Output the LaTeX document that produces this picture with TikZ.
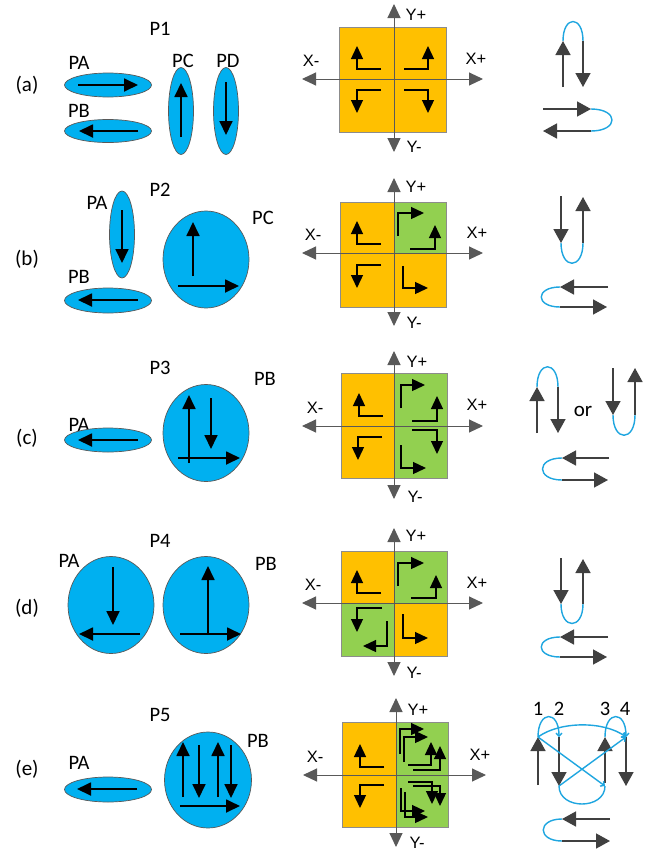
\documentclass[tikz,border=0pt]{standalone}
\usepackage{fontspec}
\setmainfont{Carlito}
\newfontfamily\axfont{Liberation Sans}
\usetikzlibrary{arrows.meta,shapes.geometric}
\definecolor{blobc}{HTML}{00B0F0}
\definecolor{orq}{HTML}{FFC000}
\definecolor{grq}{HTML}{92D050}
\definecolor{axc}{HTML}{595959}
\definecolor{rac}{HTML}{404040}
\definecolor{loopc}{HTML}{1FA6E0}
\definecolor{sqc}{HTML}{8C8C8C}
\tikzset{
 lbl/.style={font=\fontsize{20.5}{24}\selectfont, inner sep=0pt},
 tag/.style={font=\fontsize{21}{24}\selectfont, inner sep=0pt},
 axl/.style={font=\axfont\fontsize{16.5}{19}\selectfont, inner sep=0pt},
 blob/.style={ellipse, draw=axc, line width=0.7pt, fill=blobc, inner sep=0pt},
 hor/.style={blob, minimum width=87pt, minimum height=24pt},
 ver/.style={blob, minimum width=25pt, minimum height=87pt},
 rnd/.style={blob, minimum width=86pt, minimum height=97pt},
 mag/.style={line width=1.8pt, -{Triangle[length=14pt,width=13pt]}},
 qa/.style={line width=1.3pt, -{Triangle[length=13pt,width=12pt]}},
 axis/.style={draw=axc, line width=1pt, {Triangle[length=14pt,width=13pt]}-{Triangle[length=14pt,width=13pt]}},
 sqb/.style={draw=sqc, line width=0.8pt},
 ra/.style={draw=rac, line width=1.5pt, -{Triangle[length=14pt,width=15pt]}},
 lp/.style={draw=loopc, line width=1.4pt},
 lpa/.style={lp, -{Straight Barb[length=3pt,width=6pt]}},
}
\begin{document}
\begin{tikzpicture}[x=1pt,y=-1pt]
\fill[white] (0,0) rectangle (655,855);
\useasboundingbox (0,0) rectangle (655,855);

% ---------------- row (a) ----------------
\node[tag] (la) at (27,85) {(a)};
\node[lbl] (p1) at (160,29) {P1};
\node[lbl] (aPAl) at (79,63) {PA};
\node[lbl] (aPBl) at (79,111) {PB};
\node[lbl] (aPCl) at (183,61) {PC};
\node[lbl] (aPDl) at (228,61) {PD};
\node[hor] (aPA) at (108,85) {};
\node[hor, minimum height=23pt] (aPB) at (108,131) {};
\node[ver] (aPC) at (181,111) {};
\node[ver] (aPD) at (226,111) {};
\draw[mag] (78,85) -- (138,85);
\draw[mag] (138,131) -- (79,131);
\draw[mag] (181,137) -- (181,83);
\draw[mag] (226,82) -- (226,135);

\begin{scope}[shift={(394,79)}]
 \fill[orq] (-55,-52) rectangle (52,53);
 \draw[sqb] (-55,-52) rectangle (52,53);
 \draw[axis] (-92,0) -- (89,0);
 \draw[axis] (0,-75) -- (0,73);
 \node[axl] (aXm) at (-83,-18) {X-};
 \node[axl] (aXp) at (82,-20) {X+};
 \node[axl] (aYp) at (22,-64) {Y+};
 \node[axl] (aYm) at (20,68) {Y-};
 \draw[qa] (-13,-10) -- (-37,-10) -- (-37,-33);
 \draw[qa] (-13,11) -- (-37,11) -- (-37,34);
 \draw[qa] (10,-10) -- (34,-10) -- (34,-33);
 \draw[qa] (10,11) -- (34,11) -- (34,34);
\end{scope}

\draw[ra] (563,87) -- (563,41);
\draw[lp] (563,41) .. controls (563,15) and (583,15) .. (583,41);
\draw[ra] (583,41) -- (583,87);
\draw[ra] (543,109) -- (591,109);
\draw[lp] (591,109) .. controls (619,109) and (619,131) .. (591,131);
\draw[ra] (591,131) -- (543,131);

% ---------------- row (b) ----------------
\node[tag] (lb) at (27,259) {(b)};
\node[lbl] (p2) at (160,190) {P2};
\node[lbl] (bPAl) at (97,203) {PA};
\node[lbl] (bPBl) at (79,277) {PB};
\node[lbl] (bPCl) at (263,218) {PC};
\node[ver] (bPA) at (122,234.5) {};
\node[hor, minimum height=25pt] (bPB) at (108,300.5) {};
\node[rnd] (bPC) at (206,259.5) {};
\draw[mag] (122,210) -- (122,263);
\draw[mag] (138,300) -- (78,300);
\draw[mag] (193,276) -- (193,222);
\draw[mag] (178,286) -- (239,286);

\begin{scope}[shift={(394,253)}]
 \fill[orq] (-54,-51) rectangle (52,54);
 \fill[grq] (0,-51) rectangle (52,0);
 \draw[sqb] (-54,-51) rectangle (52,54);
 \draw[axis] (-92,0) -- (89,0);
 \draw[axis] (0,-75) -- (0,73);
 \node[axl] (bXm) at (-81,-18) {X-};
 \node[axl] (bXp) at (83,-20) {X+};
 \node[axl] (bYp) at (22,-66) {Y+};
 \node[axl] (bYm) at (20,70) {Y-};
 \draw[qa] (-13,-9) -- (-37,-9) -- (-37,-32);
 \draw[qa] (-13,12) -- (-37,12) -- (-37,35);
 \draw[qa] (4,-17) -- (4,-40) -- (30,-40);
 \draw[qa] (16,-4) -- (41,-4) -- (41,-28);
 \draw[qa] (9,13) -- (9,35) -- (34,35);
\end{scope}

\draw[ra] (561,196) -- (561,243);
\draw[lp] (561,243) .. controls (561,270) and (583,270) .. (583,243);
\draw[ra] (583,243) -- (583,197);
\draw[ra] (608,287) -- (560,287);
\draw[lp] (560,287) .. controls (535,287) and (535,307) .. (560,307);
\draw[ra] (560,307) -- (607,307);

% ---------------- row (c) ----------------
\node[tag] (lc) at (27,438) {(c)};
\node[lbl] (p3) at (160,368) {P3};
\node[lbl] (cPAl) at (79,425) {PA};
\node[lbl] (cPBl) at (265,379) {PB};
\node[hor] (cPA) at (108,440) {};
\node[rnd] (cPB) at (206,433) {};
\draw[mag] (138,440) -- (78,440);
\draw[mag] (189,463) -- (189,395);
\draw[mag] (211,398) -- (211,449);
\draw[mag] (178,458) -- (240,458);

\begin{scope}[shift={(394,426)}]
 \fill[orq] (-53,-53) rectangle (0,52);
 \fill[grq] (0,-53) rectangle (53,52);
 \draw[sqb] (-53,-53) rectangle (53,52);
 \draw[axis] (-92,0) -- (89,0);
 \draw[axis] (0,-75) -- (0,73);
 \node[axl] (cXm) at (-79,-18) {X-};
 \node[axl] (cXp) at (83,-21) {X+};
 \node[axl] (cYp) at (23,-64) {Y+};
 \node[axl] (cYm) at (21,71) {Y-};
 \draw[qa] (-11,-10) -- (-35,-10) -- (-35,-33);
 \draw[qa] (-12,11) -- (-36,11) -- (-36,34);
 \draw[qa] (7,-18) -- (7,-41) -- (31,-41);
 \draw[qa] (18,-5) -- (43,-5) -- (43,-30);
 \draw[qa] (18,4) -- (43,4) -- (43,28);
 \draw[qa] (7,19) -- (7,42) -- (32,42);
\end{scope}

\draw[ra] (537,433) -- (537,387);
\draw[lp] (537,387) .. controls (537,360) and (558,360) .. (558,387);
\draw[ra] (558,387) -- (558,433);
\node[tag] (cor) at (583,411) {or};
\draw[ra] (613,368) -- (613,415);
\draw[lp] (613,415) .. controls (613,442) and (635,442) .. (635,415);
\draw[ra] (635,415) -- (635,368);
\draw[ra] (609,458) -- (562,458);
\draw[lp] (562,458) .. controls (536,458) and (536,480) .. (562,480);
\draw[ra] (562,480) -- (608,480);

% ---------------- row (d) ----------------
\node[tag] (ld) at (27,608) {(d)};
\node[lbl] (p4) at (160,541) {P4};
\node[lbl] (dPAl) at (69,561) {PA};
\node[lbl] (dPBl) at (266,564) {PB};
\node[rnd] (dPA) at (111,605) {};
\node[rnd] (dPB) at (206,605) {};
\draw[mag] (113,567) -- (113,625);
\draw[mag] (140,634) -- (79,634);
\draw[mag] (208,634) -- (208,566);
\draw[mag] (180,634) -- (241,634);

\begin{scope}[shift={(394,603)}]
 \fill[orq] (-53,-52) rectangle (53,53);
 \fill[grq] (0,-52) rectangle (53,0);
 \fill[grq] (-53,0) rectangle (0,53);
 \draw[sqb] (-53,-52) rectangle (53,53);
 \draw[axis] (-92,0) -- (89,0);
 \draw[axis] (0,-75) -- (0,73);
 \node[axl] (dXm) at (-81,-18) {X-};
 \node[axl] (dXp) at (83,-20) {X+};
 \node[axl] (dYp) at (22,-67) {Y+};
 \node[axl] (dYm) at (20,70) {Y-};
 \draw[qa] (-13,-10) -- (-37,-10) -- (-37,-33);
 \draw[qa] (4,-17) -- (4,-40) -- (30,-40);
 \draw[qa] (17,-5) -- (42,-5) -- (42,-28);
 \draw[qa] (-12,5) -- (-37,5) -- (-37,29);
 \draw[qa] (-7,18) -- (-7,43) -- (-31,43);
 \draw[qa] (9,11) -- (9,35) -- (34,35);
\end{scope}

\draw[ra] (561,558) -- (561,604);
\draw[lp] (561,604) .. controls (561,630) and (583,630) .. (583,604);
\draw[ra] (583,604) -- (583,559);
\draw[ra] (608,637) -- (560,637);
\draw[lp] (560,637) .. controls (535,637) and (535,657) .. (560,657);
\draw[ra] (560,657) -- (607,657);

% ---------------- row (e) ----------------
\node[tag] (le) at (27,769) {(e)};
\node[lbl] (p5) at (160,715) {P5};
\node[lbl] (ePAl) at (79,763) {PA};
\node[lbl] (ePBl) at (258,741) {PB};
\node[hor, minimum height=25pt] (ePA) at (108,789.5) {};
\node[blob, minimum width=87pt, minimum height=96pt] (ePB) at (208,780) {};
\draw[mag] (137,789) -- (77,789);
\draw[mag] (183,797) -- (183,742);
\draw[mag] (199,745) -- (199,798);
\draw[mag] (218,797) -- (218,742);
\draw[mag] (231,745) -- (231,798);
\draw[mag] (180,806) -- (240,806);

\begin{scope}[shift={(396,775)}]
 \fill[orq] (-54,-53) rectangle (0,52);
 \fill[grq] (0,-53) rectangle (52,52);
 \draw[sqb] (-54,-53) rectangle (52,52);
 \draw[axis] (-93,0) -- (90,0);
 \draw[axis] (0,-77) -- (0,72);
 \node[axl] (eXm) at (-81,-18) {X-};
 \node[axl] (eXp) at (84,-20) {X+};
 \node[axl] (eYp) at (22,-65) {Y+};
 \node[axl] (eYm) at (21,68) {Y-};
 \draw[qa] (-12,-8) -- (-36,-8) -- (-36,-31);
 \draw[qa] (-12,10) -- (-36,10) -- (-36,33);
 \draw[qa] (4,-21) -- (4,-46) -- (28,-46);
 \draw[qa] (8,-13) -- (8,-38) -- (32,-38);
 \draw[qa] (12,-10) -- (35,-10) -- (35,-33);
 \draw[qa] (17,-5) -- (44,-5) -- (44,-29);
 \draw[qa] (12,7) -- (36,7) -- (36,29);
 \draw[qa] (17,11) -- (44,11) -- (44,31);
 \draw[qa] (5,13) -- (5,36) -- (29,36);
 \draw[qa] (9,17) -- (9,42) -- (32,42);
\end{scope}

\node[lbl] (n1) at (538,709) {1};
\node[lbl] (n2) at (559,709) {2};
\node[lbl] (n3) at (605,709) {3};
\node[lbl] (n4) at (625,709) {4};
\draw[ra] (538,785) -- (538,737);
\draw[ra] (559,737) -- (559,786);
\draw[ra] (605,783) -- (605,737);
\draw[ra] (626,737) -- (626,786);
\draw[lpa] (538,737) .. controls (538,710) and (559,710) .. (559,737);
\draw[lpa] (538,737) .. controls (560,721) and (604,721) .. (626,737);
\draw[lpa] (605,737) .. controls (605,710) and (626,710) .. (626,737);
\draw[lpa] (538,737) -- (605,786);
\draw[lpa] (559,786) -- (626,737);
\draw[lp] (559,786) .. controls (559,810) and (605,810) .. (605,786);
\draw[ra] (610,819) -- (562,819);
\draw[lp] (562,819) .. controls (537,819) and (537,841) .. (562,841);
\draw[ra] (562,841) -- (610,841);
\end{tikzpicture}
\end{document}
